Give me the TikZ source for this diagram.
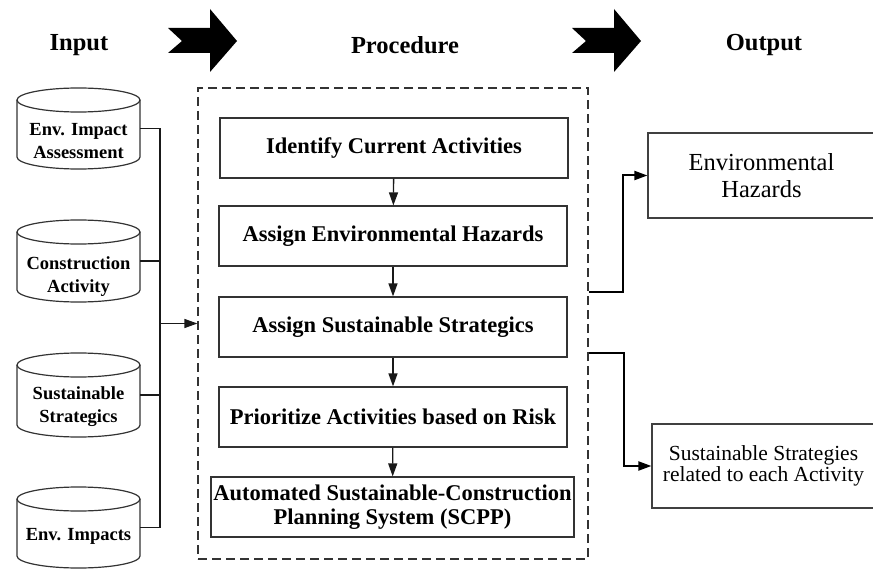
\documentclass[tikz,border=0pt]{standalone}
\usepackage{fontspec}
\setmainfont{Liberation Serif}
\usetikzlibrary{arrows.meta}
\tikzset{
  lbl/.style={font=\bfseries\fontsize{24.5}{27}\selectfont, inner sep=0pt},
  proc/.style={draw=black!80, line width=1.2pt, minimum width=348pt, minimum height=60pt,
    font=\bfseries\fontsize{22.5}{24}\selectfont, align=center, inner sep=0pt},
  outbox/.style={draw=black!75, line width=1.2pt, align=center, inner sep=0pt},
  cyltext/.style={font=\bfseries\fontsize{18.5}{23}\selectfont, align=center, inner sep=0pt},
  cylbody/.style={minimum width=123pt, inner sep=0pt, outer sep=0pt},
  cylline/.style={draw=black!80, line width=1.2pt},
  link/.style={line width=1.3pt, draw=black!90},
  thicklink/.style={line width=2pt, draw=black},
  arr/.style={-{Triangle[length=13pt,width=9pt]}},
  frame/.style={draw=black!80, line width=1.2pt, dash pattern=on 9pt off 5pt,
    minimum width=390pt, minimum height=471pt, inner sep=0pt}
}
\newcommand\dbcyl[3]{%
  \node[cylbody, minimum height={(#3-#2)*1pt}] (#1) at (78.5,{(#2+#3)/2}) {};
  \draw[cylline] (78.5,#2) ellipse [x radius=61.5, y radius=12];
  \draw[cylline] (17,#2) -- (17,#3) arc[start angle=180, end angle=0, x radius=61.5, y radius=12] -- (140,#2);
}
\begin{document}
\begin{tikzpicture}[x=1pt,y=-1pt]
\useasboundingbox (0,0) rectangle (873,572);
\clip (0,0) rectangle (873,572);

% headings
\node[lbl] (hin) at (79,45) {Input};
\node[lbl] (hproc) at (405,45) {Procedure};
\node[lbl] (hout) at (764,45) {Output};

% big arrows
\fill (168,28) -- (210,28) -- (210,9) -- (237,41) -- (210,72) -- (210,53) -- (168,53) -- (182,41) -- cycle;
\fill (572,28) -- (614,28) -- (614,9) -- (641,41) -- (614,72) -- (614,53) -- (572,53) -- (586,41) -- cycle;

% cylinders
\dbcyl{c1}{100}{157}
\dbcyl{c2}{232}{290}
\dbcyl{c3}{365}{425}
\dbcyl{c4}{499}{556}
\node[cyltext] (t1) at (78.5,141) {Env. Impact\\Assessment};
\node[cyltext] (t2) at (78.5,277) {Construction\\Activity};
\node[cyltext] (t3) at (78.5,407) {Sustainable\\Strategics};
\node[cyltext] (t4) at (78.5,536) {Env. Impacts};

% procedure frame and boxes
\node[frame] (proc) at (393,323.5) {};
\node[proc] (b1) at (394,148) {Identify Current Activities};
\node[proc] (b2) at (393,236) {Assign Environmental Hazards};
\node[proc] (b3) at (393,327) {Assign Sustainable Strategics};
\node[proc] (b4) at (393,417) {Prioritize Activities based on Risk};
\node[proc, minimum width=363pt] (b5) at (392.5,507) {Automated Sustainable-Construction\\Planning System (SCPP)};

% outputs
\node[outbox, minimum width=227pt, minimum height=85pt, font=\fontsize{24.5}{27}\selectfont] (haz) at (761.5,175.5) {Environmental\\Hazards};
\node[outbox, minimum width=223pt, minimum height=84pt, font=\fontsize{21.5}{21}\selectfont] (sus) at (763.5,466) {Sustainable Strategies\\related to each Activity};

% input bus
\coordinate (bx) at (160,0);
\draw[link] (c1.east) -- (c1.east -| bx) -- (c4.east -| bx) -- (c4.east);
\draw[link] (c2.east) -- (c2.east -| bx);
\draw[link] (c3.east) -- (c3.east -| bx);
\draw[link, arr] (proc.west -| bx) -- (proc.west);

% procedure chain
\draw[link, arr] (b1) -- (b2);
\draw[link, arr] (b2) -- (b3);
\draw[link, arr] (b3) -- (b4);
\draw[link, arr] (b4) -- (b5);

% outputs connectors
\coordinate (o1) at (proc.east |- 0,292);
\coordinate (o2) at (proc.east |- 0,353);
\draw[thicklink, arr] (o1) -- ++(34,0) |- (haz.west);
\draw[thicklink, arr] (o2) -- ++(35,0) |- (sus.west);
\end{tikzpicture}
\end{document}
